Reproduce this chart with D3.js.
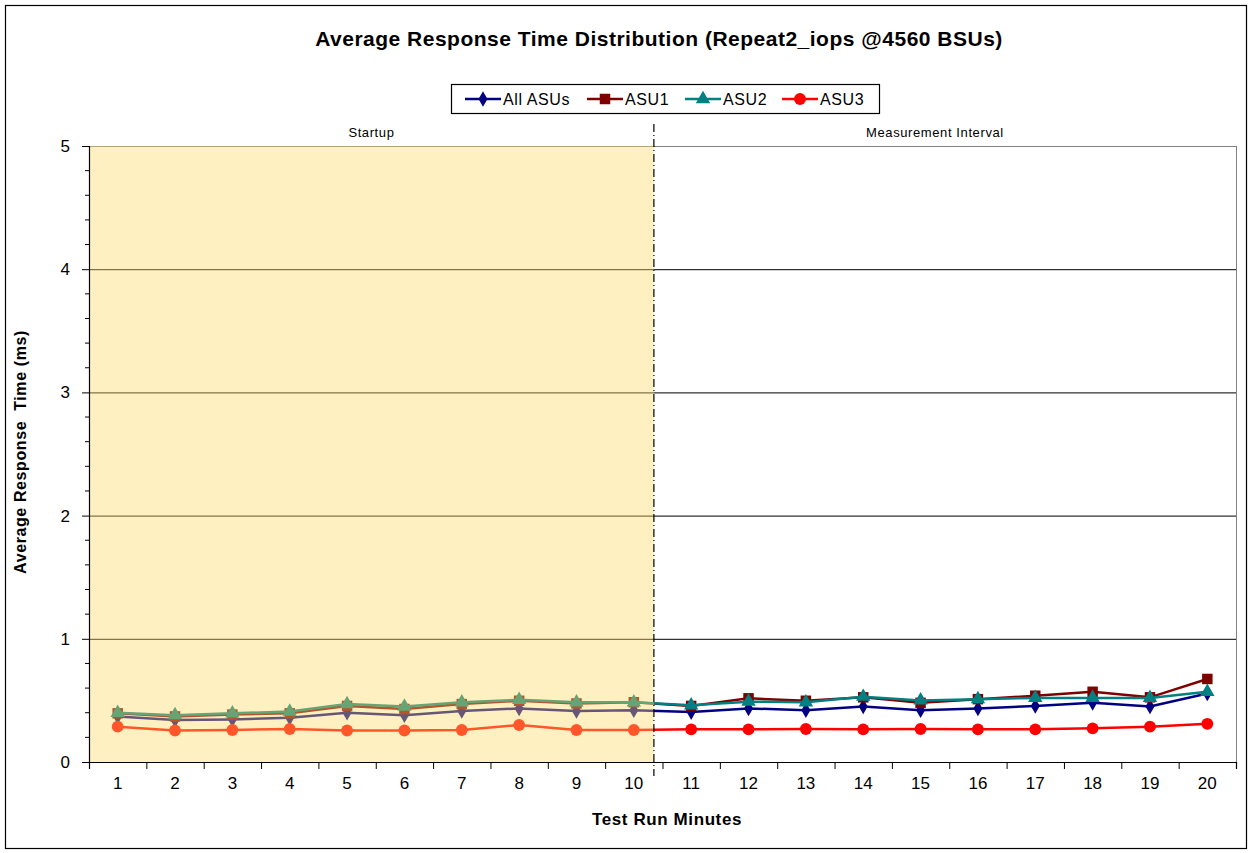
<!DOCTYPE html>
<html>
<head>
<meta charset="utf-8">
<script src="https://cdn.jsdelivr.net/npm/d3@7"></script>
<style>
  body { margin: 0; background: #fff; font-family: "Liberation Sans", Arial, sans-serif; }
</style>
</head>
<body>
<div id="chart"></div>
<script>
// data
const minutes = d3.range(1, 21);
const allAsus = [0.37, 0.34, 0.345, 0.36, 0.40, 0.38, 0.414, 0.435, 0.414, 0.42,
                 0.405, 0.435, 0.42, 0.45, 0.42, 0.435, 0.455, 0.48, 0.45, 0.556];
const asu1 = [0.395, 0.37, 0.385, 0.395, 0.455, 0.43, 0.47, 0.497, 0.475, 0.485,
              0.455, 0.517, 0.497, 0.525, 0.48, 0.51, 0.538, 0.57, 0.525, 0.674];
const asu2 = [0.40, 0.38, 0.395, 0.41, 0.47, 0.45, 0.485, 0.505, 0.485, 0.485,
              0.46, 0.49, 0.485, 0.53, 0.50, 0.51, 0.52, 0.52, 0.52, 0.57];
const asu3 = [0.287, 0.256, 0.26, 0.268, 0.256, 0.256, 0.26, 0.30, 0.26, 0.26,
              0.265, 0.265, 0.268, 0.265, 0.268, 0.265, 0.265, 0.273, 0.287, 0.31];
const seriesNames = ["All ASUs", "ASU1", "ASU2", "ASU3"];
const startupEnd = 10.35; // minute position of the startup / measurement split
const yTicks = [0, 1, 2, 3, 4, 5];

const series = [
  { name: seriesNames[0], values: allAsus, color: "#000080", symbol: d3.symbolDiamond, size: 70 },
  { name: seriesNames[1], values: asu1, color: "#800000", symbol: d3.symbolSquare, size: 110 },
  { name: seriesNames[2], values: asu2, color: "#008080", symbol: d3.symbolTriangle, size: 90 },
  { name: seriesNames[3], values: asu3, color: "#FF0000", symbol: d3.symbolCircle, size: 110 }
];

const W = 1252, H = 853;
const margin = { top: 146, right: 16, bottom: 91, left: 89 };
const width = W - margin.left - margin.right,
      height = H - margin.top - margin.bottom;

const svg = d3.select("#chart").append("svg")
  .attr("width", W).attr("height", H);

// outer frame
svg.append("rect")
  .attr("x", 5.5).attr("y", 5.5).attr("width", W - 11).attr("height", H - 10)
  .attr("fill", "#fff").attr("stroke", "#000").attr("stroke-width", 1.2);

svg.append("text")
  .attr("x", 659).attr("y", 46)
  .attr("text-anchor", "middle")
  .style("font-size", "21px").style("font-weight", "bold")
  .style("letter-spacing", "0.5px")
  .text("Average Response Time Distribution (Repeat2_iops @4560 BSUs)");

const g = svg.append("g").attr("transform", `translate(${margin.left},${margin.top})`);

const x = d3.scaleLinear().domain([0.5, 20.5]).range([0, width]);
const y = d3.scaleLinear().domain([0, 5]).range([height, 0]);

// grid lines
g.append("g").selectAll("line")
  .data(yTicks.filter(d => d > 0))
  .join("line")
  .attr("x1", 0).attr("x2", width)
  .attr("y1", d => y(d) + 0.5).attr("y2", d => y(d) + 0.5)
  .attr("stroke", d => d === 5 ? "#808080" : "#000").attr("stroke-width", 1);

// right border
g.append("line")
  .attr("x1", width + 0.5).attr("x2", width + 0.5)
  .attr("y1", 0).attr("y2", height)
  .attr("stroke", "#808080");

// lines and markers
const line = d3.line().x((d, i) => x(minutes[i])).y(d => y(d));
const sg = g.selectAll(".series").data(series).join("g").attr("class", "series");
sg.append("path")
  .attr("d", d => line(d.values))
  .attr("fill", "none")
  .attr("stroke", d => d.color)
  .attr("stroke-width", 2.5);
sg.selectAll("path.pt")
  .data(d => d.values.map((v, i) => ({ v, i, s: d })))
  .join("path")
  .attr("class", "pt")
  .attr("transform", d => `translate(${x(minutes[d.i])},${y(d.v)})`)
  .attr("d", d => d3.symbol().type(d.s.symbol).size(d.s.size)())
  .attr("fill", d => d.s.color);

// startup shading (drawn translucent over the lines)
g.append("rect")
  .attr("x", 0).attr("y", 0)
  .attr("width", x(startupEnd)).attr("height", height)
  .attr("fill", "#FFD966").attr("opacity", 0.4);

// split line
g.append("line")
  .attr("x1", x(startupEnd)).attr("x2", x(startupEnd))
  .attr("y1", -22).attr("y2", height + 14)
  .attr("stroke", "#000").attr("stroke-width", 1.2)
  .attr("stroke-dasharray", "8,3,1,3");

g.append("text")
  .attr("x", x(startupEnd) / 2).attr("y", -9)
  .attr("text-anchor", "middle").style("font-size", "13px")
  .style("letter-spacing", "0.6px")
  .text("Startup");
g.append("text")
  .attr("x", (x(startupEnd) + width) / 2 - 10).attr("y", -9)
  .attr("text-anchor", "middle").style("font-size", "13px")
  .style("letter-spacing", "0.6px")
  .text("Measurement Interval");

// y axis
const yAxis = g.append("g")
  .call(d3.axisLeft(y).tickValues(yTicks).tickSize(7).tickPadding(12).tickFormat(d3.format("d")));
yAxis.select(".domain").attr("stroke", "#000").attr("stroke-width", 1.2);
yAxis.selectAll("text").style("font-size", "17px").style("font-family", "Liberation Sans, Arial");
g.append("g").selectAll("line")
  .data(d3.range(0, 5.01, 0.2).filter(v => Math.abs(v - Math.round(v)) > 0.01))
  .join("line")
  .attr("x1", -4).attr("x2", 0)
  .attr("y1", d => y(d)).attr("y2", d => y(d))
  .attr("stroke", "#000");

// x axis
const xAxis = g.append("g").attr("transform", `translate(0,${height})`)
  .call(d3.axisBottom(x).tickValues(d3.range(0.5, 20.6, 1)).tickSize(7).tickFormat(""));
xAxis.select(".domain").attr("stroke", "#000").attr("stroke-width", 1.2);
g.append("g").selectAll("text")
  .data(minutes)
  .join("text")
  .attr("x", d => x(d)).attr("y", height + 27)
  .attr("text-anchor", "middle").style("font-size", "17px")
  .text(d => d);

svg.append("text")
  .attr("x", 667).attr("y", 825)
  .attr("text-anchor", "middle")
  .style("font-size", "17px").style("font-weight", "bold")
  .style("letter-spacing", "0.6px")
  .text("Test Run Minutes");

svg.append("text")
  .attr("transform", "translate(26,452) rotate(-90)")
  .attr("text-anchor", "middle")
  .style("font-size", "16px").style("font-weight", "bold")
  .style("letter-spacing", "0.6px")
  .attr("xml:space", "preserve")
  .text("Average Response  Time (ms)");

// legend
const lg = svg.append("g");
lg.append("rect")
  .attr("x", 451.5).attr("y", 84.5).attr("width", 428).attr("height", 29)
  .attr("fill", "#fff").attr("stroke", "#000").attr("stroke-width", 1.2);
const legendX = [465, 587, 685, 782];
const li = lg.selectAll(".li").data(series).join("g")
  .attr("transform", (d, i) => `translate(${legendX[i]},99)`);
li.append("line").attr("x1", 0).attr("x2", 36)
  .attr("stroke", d => d.color).attr("stroke-width", 2.5);
li.append("path").attr("transform", "translate(18,0)")
  .attr("d", d => d3.symbol().type(d.symbol).size(d.size)())
  .attr("fill", d => d.color);
li.append("text").attr("x", 38).attr("y", 6)
  .style("font-size", "16px").style("letter-spacing", "0.6px").text(d => d.name);
</script>
</body>
</html>
